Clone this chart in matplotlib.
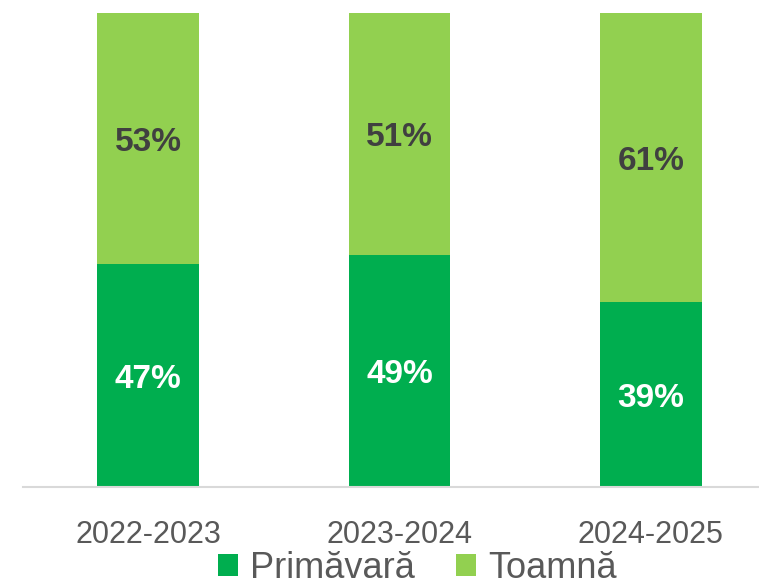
import matplotlib.pyplot as plt
import numpy as np

# Data
years = ["2022-2023", "2023-2024", "2024-2025"]
primavara = [47, 49, 39]
toamna = [53, 51, 61]

dark_green = "#00AE4F"
light_green = "#92D050"

plt.rcParams['font.family'] = ['Liberation Sans', 'DejaVu Sans']

fig = plt.figure(figsize=(7.59, 5.87), dpi=100)
ax = fig.add_axes([23 / 759, 1 - 487 / 587, 736 / 759, 474 / 587])

x = np.arange(len(years))
w = 0.405
bars1 = ax.bar(x, primavara, width=w, color=dark_green, label="Primăvară")
bars2 = ax.bar(x, toamna, width=w, bottom=primavara, color=light_green, label="Toamnă")

for i in range(len(years)):
    ax.text(x[i], primavara[i] / 2, f"{primavara[i]}%", ha="center", va="center_baseline",
            color="white", fontsize=24, fontweight="bold")
    ax.text(x[i], primavara[i] + toamna[i] / 2, f"{toamna[i]}%", ha="center",
            va="center_baseline", color="#404040", fontsize=24, fontweight="bold")

ax.set_xlim(-0.497, 2.43)
ax.set_ylim(0, 100)
ax.set_xticks(x)
ax.set_xticklabels(years, fontsize=22, color="#595959")
ax.tick_params(axis="x", length=0, pad=24)
ax.set_yticks([])
for s in ["top", "left", "right"]:
    ax.spines[s].set_visible(False)
ax.spines["bottom"].set_color("#D9D9D9")
ax.spines["bottom"].set_linewidth(1.5)

fig.legend(handles=[bars1, bars2], loc="center", bbox_to_anchor=(417 / 759, 1 - 568 / 587),
           ncol=2, frameon=False, fontsize=26, labelcolor="#595959",
           handlelength=0.56, handleheight=0.56, handletextpad=0.33, columnspacing=1.14,
           borderpad=0)

fig.savefig("out.png", dpi=100)
